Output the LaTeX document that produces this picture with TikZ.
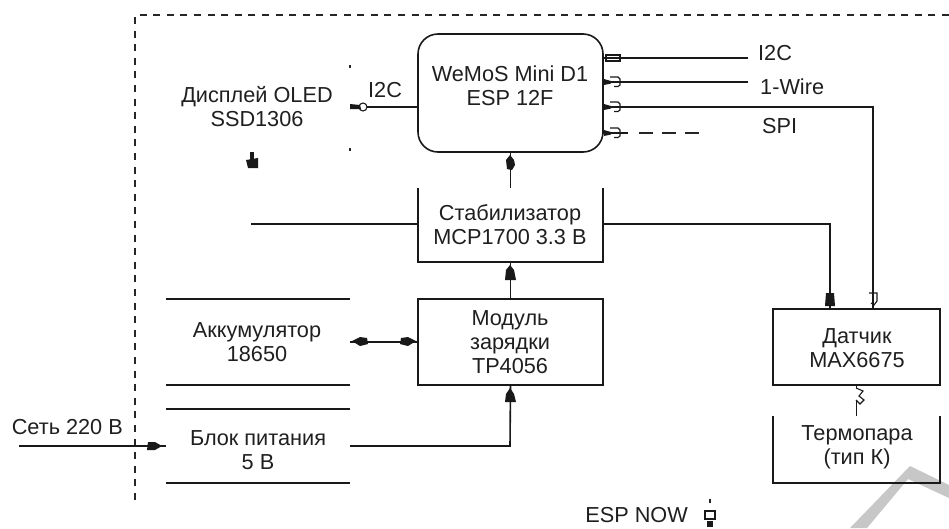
\documentclass[tikz,border=0pt]{standalone}
\usepackage{fontspec}
\setmainfont{Liberation Sans}
\tikzset{
  x=1pt,y=-1pt,
  wire/.style={line width=1.6pt,black!90},
  fbox/.style={draw=black!90,line width=1.6pt,inner sep=0},
  bare/.style={draw=none,inner sep=0},
  lbl/.style={font=\fontsize{21.7}{24}\selectfont,align=center,text=black!88,inner sep=0},
  hook/.style={line width=1.1pt,black!90},
  blob/.style={fill=black!90,draw=none},
  bdash/.style={line width=1.4pt,black!85,dash pattern=on 7pt off 6.6pt},
  wm/.style={fill=black!22,draw=none},
}
\begin{document}
\begin{tikzpicture}
\useasboundingbox (0,0) rectangle (949,528);
% watermark
\fill[wm] (850,528) -- (910,466) -- (949,485) -- (949,498) -- (908,479) -- (867,528) -- cycle;
% frame
\coordinate (fa) at (135,15);
\coordinate (fb) at (949,15);
\coordinate (fc) at (135,501);
\draw[bdash] (fb) -- (fa) -- (fc);
% boxes
\node[fbox,rounded corners=20pt,minimum width=185pt,minimum height=118pt] (mcu) at (510.5,93) {};
\node[lbl] (mcut) at (510,86) {WeMoS Mini D1\\ESP 12F};
\node[bare,minimum width=185pt,minimum height=74pt] (stab) at (510.5,225) {};
\draw[wire] (stab.north west) -- (stab.south west) -- (stab.south east) -- (stab.north east);
\node[lbl] (stabt) at (510,225) {Стабилизатор\\MCP1700 3.3 В};
\node[fbox,minimum width=185pt,minimum height=86pt] (mod) at (510.5,342) {};
\node[lbl] (modt) at (510,342) {Модуль\\зарядки\\TP4056};
\node[fbox,minimum width=167pt,minimum height=76pt] (sens) at (856.5,347) {};
\node[lbl] (senst) at (857,348) {Датчик\\MAX6675};
\node[bare,minimum width=167pt,minimum height=67pt] (tc) at (856.5,449.5) {};
\draw[wire] (tc.north west) -- (tc.south west) -- (tc.south east) -- (tc.north east);
\node[lbl] (tct) at (857,447) {Термопара\\(тип К)};
% line-only boxes
\node[bare,minimum width=184pt,minimum height=86pt] (acc) at (258,342) {};
\draw[wire] (acc.north west) -- (acc.north east) (acc.south west) -- (acc.south east);
\node[lbl] (acct) at (257,342) {Аккумулятор\\18650};
\node[bare,minimum width=184pt,minimum height=74pt] (psu) at (258,446) {};
\draw[wire] (psu.north west) -- (psu.north east) (psu.south west) -- (psu.south east);
\node[lbl] (psut) at (258,450) {Блок питания\\5 В};
\node[lbl] (oledt) at (257,107) {Дисплей OLED\\SSD1306};
% labels
\node[lbl,anchor=west] (li2c) at (368,90) {I2C};
\node[lbl,anchor=west] (ri2c) at (758,53) {I2C};
\node[lbl,anchor=west] (owire) at (760,87) {1-Wire};
\node[lbl,anchor=west] (spi) at (762,126) {SPI};
\node[lbl,anchor=east] (net) at (123,427) {Сеть 220 В};
\node[lbl,anchor=east] (esp) at (688,515.5) {ESP NOW};
% coordinates
\coordinate (l1) at (367,107);
\coordinate (r1) at (748,58);
\coordinate (r2) at (748,82);
\coordinate (r4) at (700,133);
\coordinate (st) at (251,224);
\coordinate (in) at (19,446);
% connectors
\draw[wire] (mcu.west |- l1) -- (l1);
\draw[hook,fill=white] (363,107) circle (4pt);
\draw[blob] (350,104) -- (360,105) -- (361,109) -- (350,109) -- cycle;
\draw[wire] (603,58) -- (r1);
\draw[wire] (603,82) -- (r2);
\draw[wire] (603,107) -- (873,107) -- (873,309);
\draw[wire] (603,133) -- (628,133);
\draw[bdash,line width=1.6pt,dash pattern=on 14pt off 9pt] (639,133) -- (r4);
% pins on the controller
\draw[hook] (606,55) rectangle (620,61);
\foreach \y in {82,107,133}{
  \draw[blob] (604,\y-3) -- (611,\y-1) -- (611,\y+1.5) -- (604,\y+3) -- cycle;
  \draw[hook] (610,\y-5) -- (618,\y-5) -- (620,\y-3) -- (620,\y+3) -- (618,\y+4.5) -- (614,\y+4.5);
}
\draw[wire] (st) -- (st -| stab.west);
\draw[wire] (st -| stab.east) -- (830,224) -- (830,309);
\draw[blob] (826,293) -- (834,293) -- (835,306) -- (825,306) -- cycle;
\draw[hook] (869,293) -- (877,293) -- (877,301) -- (874,305) -- (871,303);
\draw[wire] (stab.north) -- (mcu.south);
\draw[blob] (510,155) -- (514,160) -- (515,165) -- (512,170) -- (507,169) -- (506,160) -- cycle;
\draw[wire] (stab.south) -- (mod.north);
\draw[blob] (510,265) -- (514,270) -- (516,280) -- (505,280) -- (506,270) -- cycle;
\draw[wire] (acc.east) -- (mod.west);
\draw[blob] (352,341) -- (360,337) -- (367,338) -- (368,344) -- (360,346) -- cycle;
\draw[blob] (416,341) -- (408,337) -- (401,338) -- (400,344) -- (408,346) -- cycle;
\draw[wire] (psu.east) -- (510,446) -- (mod.south);
\draw[blob] (510,388) -- (514,394) -- (516,402) -- (505,402) -- (506,394) -- cycle;
\draw[wire] (in) -- (psu.west);
\draw[blob] (162,446) -- (155,442) -- (148,442) -- (147,450) -- (155,450) -- cycle;
\draw[wire] (sens.south) -- (tc.north);
\draw[hook,fill=white] (856,388) -- (863,391) -- (859,396) -- (864,400) -- (860,404) -- (856,400);
% mark under the display
\fill[black!90] (250,152) rectangle (254,160);
\draw[blob] (246,160) -- (258,158) -- (258,168) -- (248,168) -- cycle;
% antenna
\draw[line width=1.8pt,black!85] (710,498.5) -- (710,503);
\draw[hook] (705,511) rectangle (715,519);
\fill[black!90] (707,521) rectangle (713,527);
% stray dots
\fill[black!85] (348.5,65) rectangle (350.5,67.5);
\fill[black!85] (348.5,148) rectangle (350.5,150.5);
\end{tikzpicture}
\end{document}
